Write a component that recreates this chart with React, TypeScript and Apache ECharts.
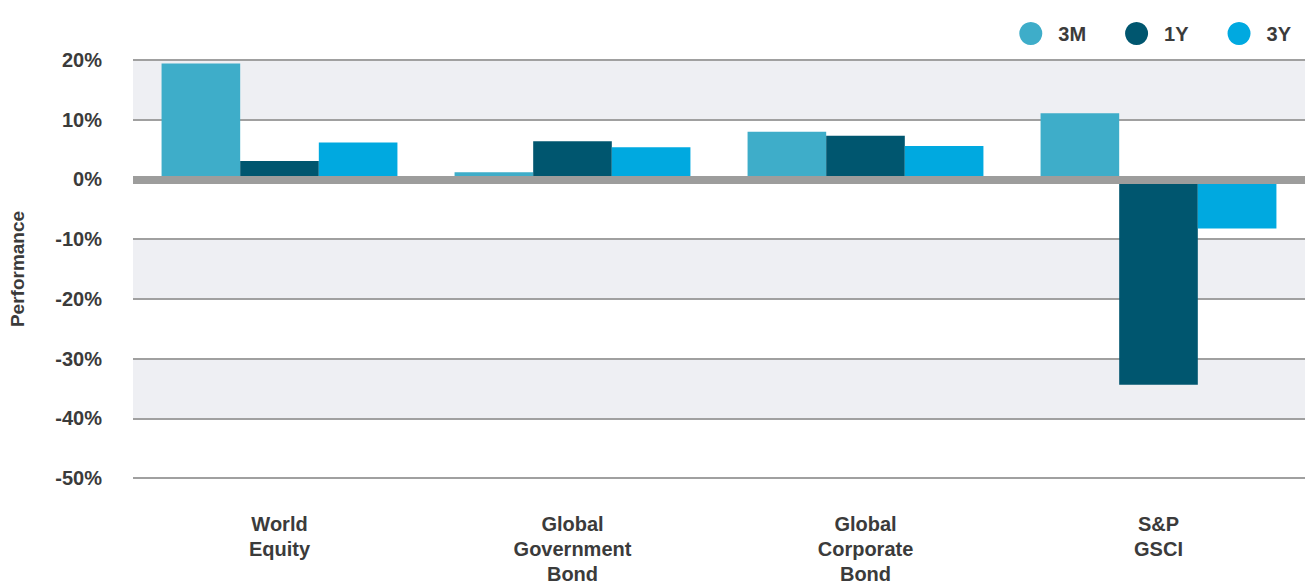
import React, { useEffect, useRef } from "react";
import * as echarts from "echarts";

const categories = ["World\nEquity", "Global\nGovernment\nBond", "Global\nCorporate\nBond", "S&P\nGSCI"];
const seriesNames = ["3M", "1Y", "3Y"];
const values3M = [19.4, 1.2, 8.0, 11.1];
const values1Y = [3.1, 6.4, 7.3, -34.4];
const values3Y = [6.2, 5.4, 5.6, -8.2];
const shadedBands = [[10, 20], [-20, -10], [-40, -30]];
const colors = ["#3eadc9", "#00566f", "#00a9e0"];

const FONT = "'Liberation Sans', Arial, Helvetica, sans-serif";
const TEXT = "#3b3b3b";

export default function App() {
  const ref = useRef<HTMLDivElement>(null);
  useEffect(() => {
    document.body.style.margin = "0";
    const chart = echarts.init(ref.current!, null, { renderer: "svg" });
    const data = [values3M, values1Y, values3Y];
    chart.setOption({
      animation: false,
      backgroundColor: "#ffffff",
      textStyle: { fontFamily: FONT },
      legend: {
        data: seriesNames,
        top: 17,
        right: 13,
        icon: "circle",
        itemWidth: 23,
        itemHeight: 23,
        itemGap: 39,
        textStyle: { fontFamily: FONT, fontSize: 20, fontWeight: "bold", color: TEXT, padding: [0, 0, 0, 11] },
      },
      grid: { left: 127, right: 4, top: 60, bottom: 102 },
      xAxis: {
        type: "category",
        data: categories,
        axisLine: { show: false },
        axisTick: { show: false },
        axisLabel: {
          interval: 0,
          margin: 33,
          fontFamily: FONT,
          fontSize: 20,
          fontWeight: "bold",
          color: TEXT,
          lineHeight: 25,
          verticalAlign: "top",
        },
      },
      yAxis: {
        type: "value",
        min: -50,
        max: 20,
        interval: 10,
        name: "Performance",
        nameLocation: "middle",
        nameRotate: 90,
        nameGap: 106,
        nameTextStyle: { fontFamily: FONT, fontSize: 19, fontWeight: "bold", color: TEXT },
        axisLine: { show: false },
        axisTick: { show: false },
        axisLabel: {
          margin: 31,
          fontFamily: FONT,
          fontSize: 20,
          fontWeight: "bold",
          color: TEXT,
          formatter: (v: number) => `${v}%`,
        },
        splitLine: { show: true, lineStyle: { color: "#a0a0a0", width: 2 } },
      },
      series: [
        {
          name: "bands",
          type: "line",
          data: [],
          z: -1,
          silent: true,
          markArea: {
            silent: true,
            z: -1,
            itemStyle: { color: "#eeeff3" },
            label: { show: false },
            data: shadedBands.map(([a, b]) => [{ yAxis: a }, { yAxis: b }]),
          },
        },
        ...seriesNames.map((name, i) => ({
          name,
          type: "bar",
          data: data[i],
          barGap: "0%",
          barCategoryGap: "19.5%",
          itemStyle: { color: colors[i] },
        })),
        {
          name: "zero",
          type: "line",
          data: [],
          z: 10,
          silent: true,
          markLine: {
            silent: true,
            symbol: "none",
            label: { show: false },
            lineStyle: { color: "#9d9d9c", width: 8, type: "solid" },
            data: [{ yAxis: 0 }],
          },
        },
      ],
    });
    return () => chart.dispose();
  }, []);
  return <div ref={ref} style={{ width: 1309, height: 586 }} />;
}
